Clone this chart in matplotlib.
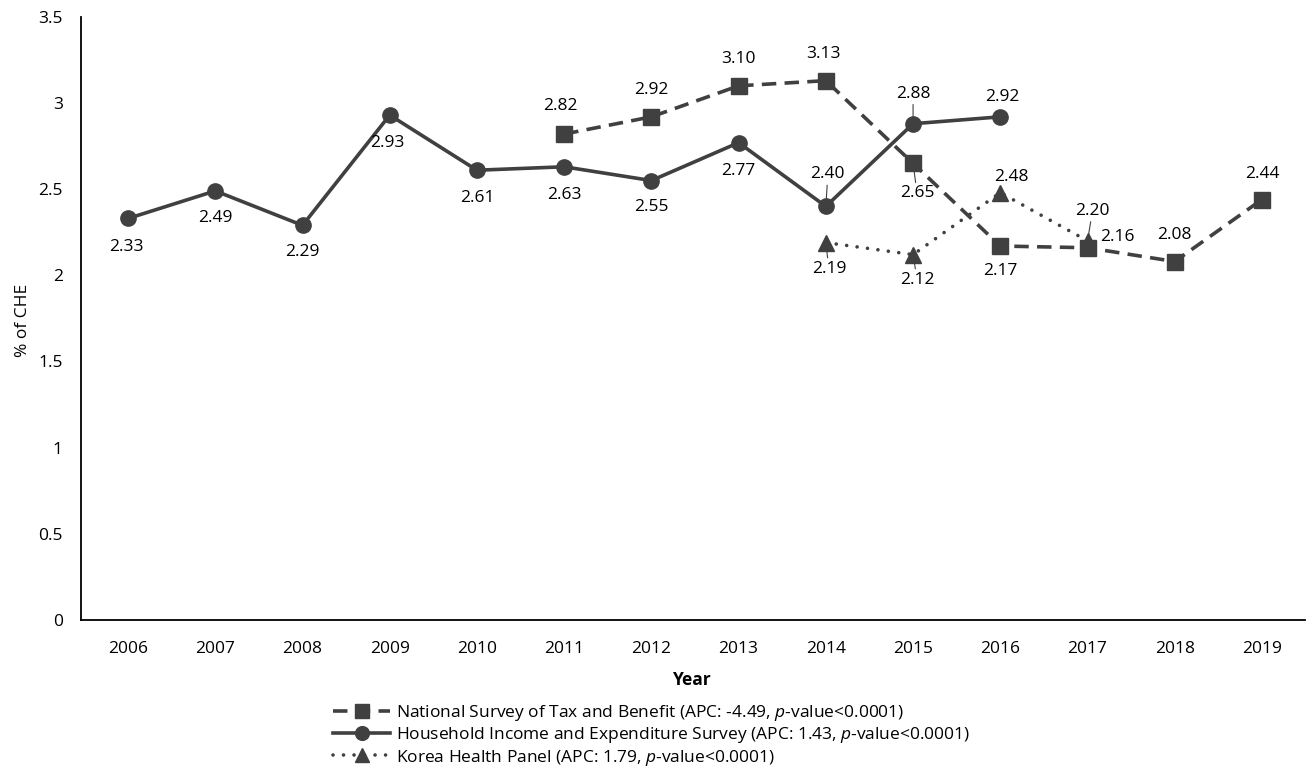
import matplotlib.pyplot as plt

# data
years = [2006, 2007, 2008, 2009, 2010, 2011, 2012, 2013, 2014, 2015, 2016, 2017, 2018, 2019]

nstb_years = [2011, 2012, 2013, 2014, 2015, 2016, 2017, 2018, 2019]
nstb_vals = [2.82, 2.92, 3.10, 3.13, 2.65, 2.17, 2.16, 2.08, 2.44]

hies_years = [2006, 2007, 2008, 2009, 2010, 2011, 2012, 2013, 2014, 2015, 2016]
hies_vals = [2.33, 2.49, 2.29, 2.93, 2.61, 2.63, 2.55, 2.77, 2.40, 2.88, 2.92]

khp_years = [2014, 2015, 2016, 2017]
khp_vals = [2.19, 2.12, 2.48, 2.20]

yticks = [0, 0.5, 1, 1.5, 2, 2.5, 3, 3.5]
ytick_labels = ["0", "0.5", "1", "1.5", "2", "2.5", "3", "3.5"]

# where the value labels sit relative to their marker (dx, dy in pixels, y down)
# and whether a small leader line is drawn, like Excel does
nstb_off = [(-4, -28), (0, -27), (0, -27), (-2, -27), (4, 30), (0, 25), (30, -11), (0, -27), (0, -26)]
nstb_lead = [0, 0, 0, 0, 1, 0, 0, 0, 0]
hies_off = [(-2, 29), (0, 27), (0, 27), (-2, 28), (0, 28), (0, 28), (0, 26), (0, 28), (2, -32), (0, -30), (2, -20)]
hies_lead = [0, 0, 0, 0, 0, 0, 0, 0, 1, 1, 0]
khp_off = [(3, 26), (4, 25), (11, -16), (5, -30)]
khp_lead = [1, 1, 0, 1]

plt.rcParams['font.family'] = ['Open Sans', 'DejaVu Sans']
plt.rcParams['mathtext.fontset'] = 'custom'
plt.rcParams['mathtext.it'] = 'Open Sans:italic'
plt.rcParams['mathtext.rm'] = 'Open Sans'

col = '#404040'
fs = 12.5
fig = plt.figure(figsize=(13.06, 7.69), dpi=100)
ax = fig.add_axes([0.062, 0.194, 0.937, 0.784])

def idx(ys):
    return [years.index(y) for y in ys]

ax.plot(idx(nstb_years), nstb_vals, color=col, lw=2.6, ls=(0, (4, 2.3)), marker='s', ms=11,
        label='National Survey of Tax and Benefit (APC: -4.49, $\\it{p}$-value<0.0001)')
ax.plot(idx(hies_years), hies_vals, color=col, lw=2.6, ls='-', marker='o', ms=11,
        label='Household Income and Expenditure Survey (APC: 1.43, $\\it{p}$-value<0.0001)')
ax.plot(idx(khp_years), khp_vals, color=col, lw=2.6, ls=(0, (0.01, 2.9)), dash_capstyle='round',
        marker='^', ms=11, label='Korea Health Panel (APC: 1.79, $\\it{p}$-value<0.0001)')

for ys, vs, offs, leads in [(nstb_years, nstb_vals, nstb_off, nstb_lead),
                            (hies_years, hies_vals, hies_off, hies_lead),
                            (khp_years, khp_vals, khp_off, khp_lead)]:
    for x, v, o, ld in zip(idx(ys), vs, offs, leads):
        ap = dict(arrowstyle='-', color=col, lw=0.8, shrinkA=0, shrinkB=0) if ld else None
        ax.annotate(f"{v:.2f}", (x, v), xytext=(o[0] * 0.72, -o[1] * 0.72), textcoords='offset points',
                    ha='center', va='center', fontsize=fs, color='black', arrowprops=ap)

ax.set_xlim(-0.54, 13.49)
ax.set_ylim(0, 3.5)
ax.set_xticks(range(len(years)))
ax.set_xticklabels([str(y) for y in years], fontsize=fs)
ax.set_yticks(yticks)
ax.set_yticklabels(ytick_labels, fontsize=fs)
ax.tick_params(length=0)
ax.tick_params(axis='x', pad=15)
ax.tick_params(axis='y', pad=13)
for s in ['top', 'right']:
    ax.spines[s].set_visible(False)
for s in ['left', 'bottom']:
    ax.spines[s].set_color('black')
    ax.spines[s].set_linewidth(1.3)
ax.set_xlabel('Year', fontsize=fs, fontweight='bold', labelpad=10)
ax.set_ylabel('% of CHE', fontsize=fs)
ax.yaxis.set_label_coords(-0.041, 0.497)

fig.legend(loc='upper left', bbox_to_anchor=(333 / 1306, 1 - 703 / 769), frameon=False, fontsize=fs,
           handlelength=3.3, handletextpad=0.3, labelspacing=0.13, borderpad=0, borderaxespad=0,
           markerscale=0.9)

fig.savefig('out.png', dpi=100)
